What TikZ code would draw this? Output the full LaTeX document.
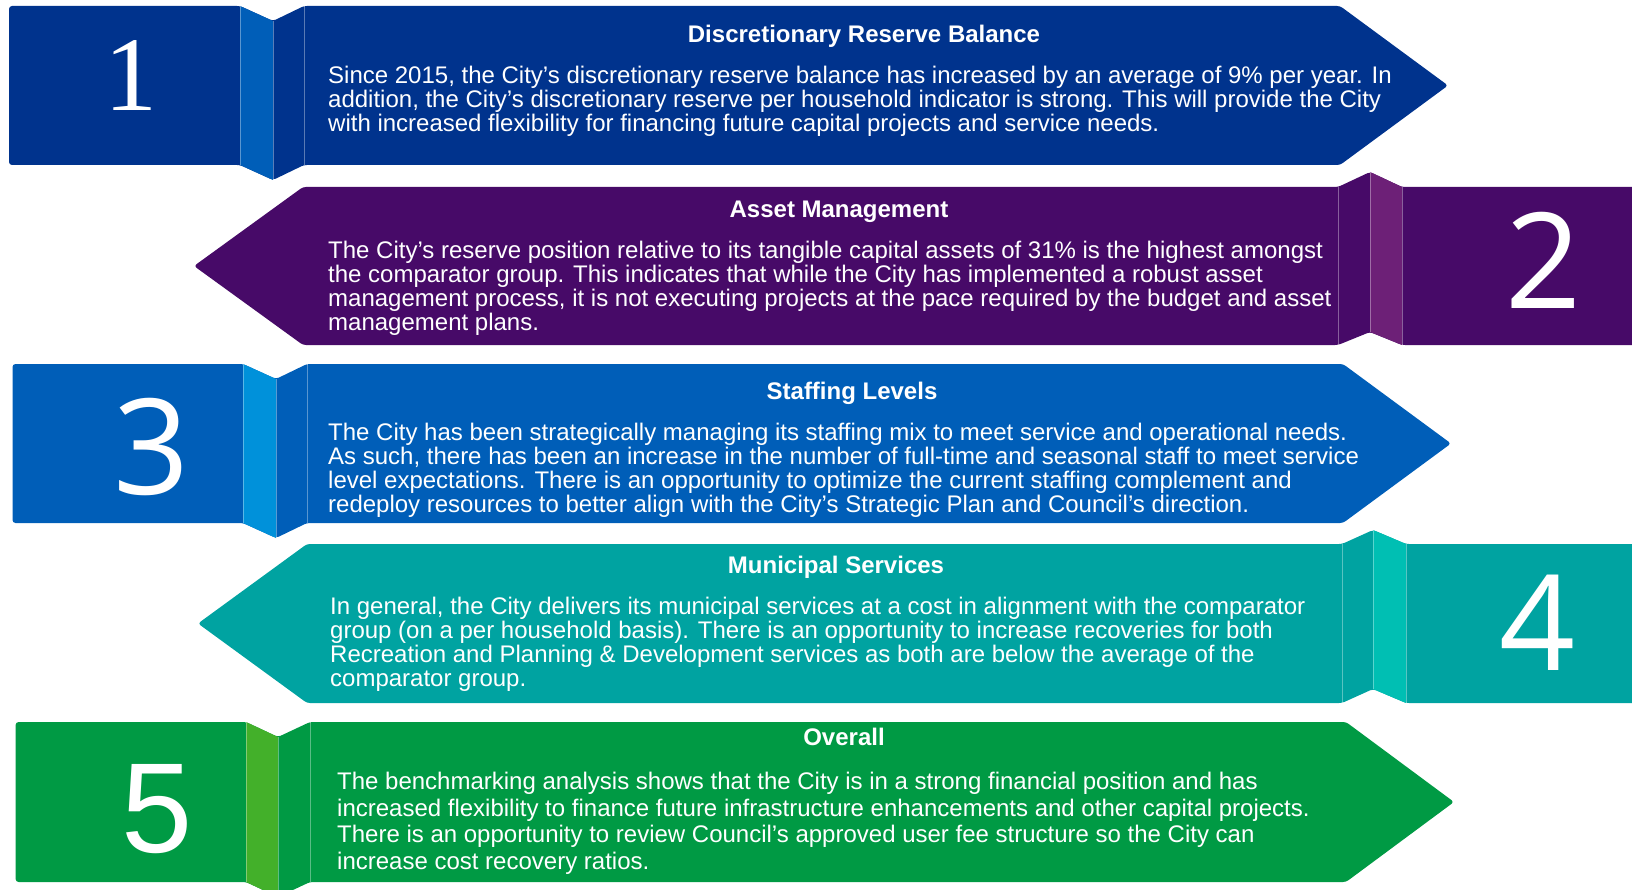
\documentclass[tikz,border=0pt]{standalone}
\usepackage{fontspec}
\setmainfont{Liberation Sans}
\newfontfamily\serifdigits{Liberation Serif}
\newfontfamily\opendigits{Open Sans}
\usepackage{xcolor}
\usepackage{tikz}
\definecolor{navy}{HTML}{00338D}
\definecolor{medblue}{HTML}{005EB8}
\definecolor{skyblue}{HTML}{0091DA}
\definecolor{plum}{HTML}{470A68}
\definecolor{violet}{HTML}{6D2077}
\definecolor{teal}{HTML}{00A3A1}
\definecolor{aqua}{HTML}{00BFB3}
\definecolor{leaf}{HTML}{009A44}
\definecolor{lime}{HTML}{43B02A}
\tikzstyle{every node}=[text=white,inner sep=0pt]
\tikzstyle{banner}=[rounded corners=3pt]
\tikzstyle{crease}=[draw=white,draw opacity=0.35,line width=0.7pt]
\tikzstyle{heading}=[font=\bfseries\fontsize{24}{24}\selectfont,anchor=base]
% body anchors sit on the baseline of the last line
\tikzstyle{body}=[font=\fontsize{24}{24}\selectfont,align=left,anchor=base west]

\begin{document}
\begin{tikzpicture}[x=1pt,y=-1pt]
    \useasboundingbox (0,0) rectangle (1632,890);

    % 1 - reserve balance
    \fill[navy,banner] (9,6) -- (240,6) -- (273,21) -- (304,6) -- (1340,6) -- (1448,85.5)
        -- (1340,165) -- (304,165) -- (273,180) -- (240,165) -- (9,165) -- cycle;
    \fill[medblue] (240,6) -- (273,21) -- (273,180) -- (240,165) -- cycle;
    \draw[crease] (240,6) -- (240,165) (273,21) -- (273,180) (304,6) -- (304,165);
    \node (n1) at (131,76) {\serifdigits\fontsize{106}{106}\selectfont 1};
    \node[heading] (t1) at (864,42.5) {Discretionary Reserve Balance};
    \node[body] (b1) at (328,131.5) {Since 2015, the City’s discretionary reserve balance has increased by an average of 9\% per year. In\\
        addition, the City’s discretionary reserve per household indicator is strong. This will provide the City\\
        with increased flexibility for financing future capital projects and service needs.};

    % 2 - asset management
    \fill[plum,banner] (194,266) -- (303,187) -- (1338,187) -- (1370,172) -- (1402,187) -- (1636,187)
        -- (1636,345) -- (1402,345) -- (1370,332) -- (1338,345) -- (303,345) -- cycle;
    \fill[violet] (1370,172) -- (1402,187) -- (1402,345) -- (1370,332) -- cycle;
    \draw[crease] (1338,187) -- (1338,345) (1370,172) -- (1370,332) (1402,187) -- (1402,345);
    \node (n2) at (1544,260) {\opendigits\fontsize{133}{133}\selectfont 2};
    \node[heading] (t2) at (839,217.5) {Asset Management};
    \node[body] (b2) at (328,330.5) {The City’s reserve position relative to its tangible capital assets of 31\% is the highest amongst\\
        the comparator group. This indicates that while the City has implemented a robust asset\\
        management process, it is not executing projects at the pace required by the budget and asset\\
        management plans.};

    % 3 - staffing
    \fill[medblue,banner] (12.5,364) -- (243,364) -- (276,379) -- (307,364) -- (1343,364) -- (1451,443.5)
        -- (1343,523) -- (307,523) -- (276,538) -- (243,523) -- (12.5,523) -- cycle;
    \fill[skyblue] (243,364) -- (276,379) -- (276,538) -- (243,523) -- cycle;
    \draw[crease] (243,364) -- (243,523) (276,379) -- (276,538) (307,364) -- (307,523);
    \node (n3) at (152,447) {\opendigits\fontsize{133}{133}\selectfont 3};
    \node[heading] (t3) at (852,399.5) {Staffing Levels};
    \node[body] (b3) at (328,512.5) {The City has been strategically managing its staffing mix to meet service and operational needs.\\
        As such, there has been an increase in the number of full-time and seasonal staff to meet service\\
        level expectations. There is an opportunity to optimize the current staffing complement and\\
        redeploy resources to better align with the City's Strategic Plan and Council’s direction.};

    % 4 - municipal services
    \fill[teal,banner] (198,623.5) -- (307,544) -- (1342,544) -- (1373,530) -- (1406,544) -- (1636,544)
        -- (1636,703) -- (1406,703) -- (1373,689) -- (1342,703) -- (307,703) -- cycle;
    \fill[aqua] (1373,530) -- (1406,544) -- (1406,703) -- (1373,689) -- cycle;
    \draw[crease] (1342,544) -- (1342,703) (1373,530) -- (1373,689) (1406,544) -- (1406,703);
    \node (n4) at (1538,623) {\opendigits\fontsize{133}{133}\selectfont 4};
    \node[heading] (t4) at (836,573.5) {Municipal Services};
    \node[body] (b4) at (330,686.5) {In general, the City delivers its municipal services at a cost in alignment with the comparator\\
        group (on a per household basis). There is an opportunity to increase recoveries for both\\
        Recreation and Planning \& Development services as both are below the average of the\\
        comparator group.};

    % 5 - overall
    \fill[leaf,banner] (15.6,722) -- (246,722) -- (278,737) -- (310,722) -- (1346,722) -- (1454,802)
        -- (1346,882) -- (310,882) -- (278,897) -- (246,882) -- (15.6,882) -- cycle;
    \fill[lime] (246,722) -- (278,737) -- (278,897) -- (246,882) -- cycle;
    \draw[crease] (246,722) -- (246,882) (278,737) -- (278,897) (310,722) -- (310,882);
    \node (n5) at (157,809) {\fontsize{128}{128}\selectfont 5};
    \node[heading] (t5) at (844,745.5) {Overall};
    \node[body,font=\fontsize{24}{26.7}\selectfont] (b5) at (337,869.5) {The benchmarking analysis shows that the City is in a strong financial position and has\\
        increased flexibility to finance future infrastructure enhancements and other capital projects.\\
        There is an opportunity to review Council’s approved user fee structure so the City can\\
        increase cost recovery ratios.};
\end{tikzpicture}
\end{document}
